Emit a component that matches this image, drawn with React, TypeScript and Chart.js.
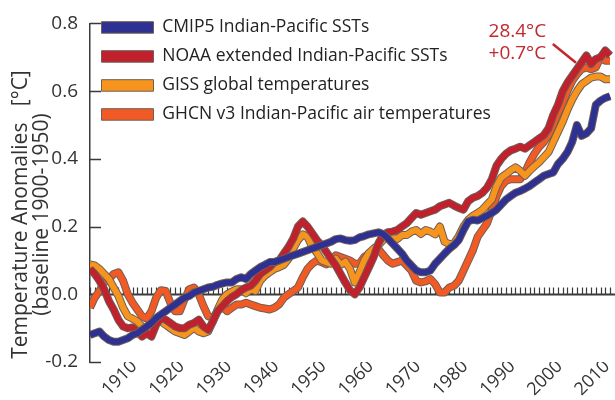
import React, { useEffect, useRef } from 'react';
import { Chart, registerables } from 'chart.js';

Chart.register(...registerables);

// ---------- data (annual anomalies, 1900-2010) ----------
const firstYear = 1900;

const cmip5 = [
  -0.12, -0.115, -0.11, -0.125, -0.135, -0.14, -0.14, -0.135, -0.13, -0.12,
  -0.115, -0.105, -0.095, -0.085, -0.07, -0.06, -0.05, -0.04, -0.03, -0.02,
  -0.01, -0.005, 0.005, 0.01, 0.015, 0.02, 0.022, 0.028, 0.032, 0.035,
  0.035, 0.045, 0.05, 0.045, 0.06, 0.07, 0.08, 0.087, 0.095, 0.095,
  0.1, 0.105, 0.11, 0.115, 0.12, 0.125, 0.13, 0.135, 0.14, 0.145,
  0.15, 0.155, 0.163, 0.165, 0.16, 0.158, 0.16, 0.168, 0.172, 0.177,
  0.18, 0.183, 0.178, 0.165, 0.15, 0.135, 0.12, 0.1, 0.085, 0.07,
  0.065, 0.065, 0.07, 0.09, 0.105, 0.12, 0.134, 0.145, 0.16, 0.19,
  0.215, 0.22, 0.218, 0.225, 0.232, 0.24, 0.25, 0.265, 0.28, 0.29,
  0.3, 0.305, 0.312, 0.32, 0.33, 0.34, 0.35, 0.355, 0.36, 0.385,
  0.4, 0.42, 0.45, 0.5, 0.468, 0.475, 0.49, 0.56, 0.572, 0.58, 0.585,
];

const noaa = [
  0.075, 0.06, 0.04, 0.015, -0.02, -0.045, -0.075, -0.095, -0.1, -0.098,
  -0.11, -0.125, -0.115, -0.125, -0.09, -0.07, -0.075, -0.085, -0.095, -0.1,
  -0.1, -0.09, -0.085, -0.075, -0.095, -0.105, -0.08, -0.05, -0.035, -0.02,
  -0.008, 0.0, 0.012, 0.02, 0.025, 0.04, 0.06, 0.07, 0.08, 0.095,
  0.1, 0.12, 0.14, 0.165, 0.2, 0.215, 0.2, 0.18, 0.16, 0.145,
  0.125, 0.105, 0.085, 0.06, 0.035, 0.012, 0.0, 0.02, 0.05, 0.08,
  0.11, 0.15, 0.175, 0.183, 0.185, 0.19, 0.2, 0.21, 0.225, 0.24,
  0.235, 0.24, 0.245, 0.25, 0.26, 0.265, 0.27, 0.262, 0.255, 0.25,
  0.275, 0.285, 0.29, 0.3, 0.315, 0.34, 0.38, 0.4, 0.415, 0.425,
  0.43, 0.436, 0.43, 0.44, 0.45, 0.46, 0.47, 0.49, 0.53, 0.56,
  0.6, 0.625, 0.645, 0.665, 0.685, 0.705, 0.68, 0.695, 0.7, 0.72, 0.705,
];

const giss = [
  0.088, 0.085, 0.075, 0.06, 0.045, 0.02, -0.005, -0.04, -0.065, -0.072,
  -0.08, -0.095, -0.105, -0.085, -0.078, -0.08, -0.09, -0.1, -0.11, -0.115,
  -0.12, -0.11, -0.098, -0.11, -0.115, -0.11, -0.08, -0.045, -0.015, 0.0,
  0.008, 0.015, 0.015, 0.003, 0.015, 0.01, 0.04, 0.055, 0.065, 0.075,
  0.08, 0.087, 0.105, 0.135, 0.16, 0.177, 0.17, 0.14, 0.122, 0.1,
  0.095, 0.09, 0.105, 0.087, 0.096, 0.075, 0.035, 0.065, 0.1, 0.122,
  0.135, 0.145, 0.16, 0.17, 0.167, 0.163, 0.175, 0.175, 0.185, 0.19,
  0.178, 0.19, 0.185, 0.177, 0.2, 0.155, 0.148, 0.15, 0.172, 0.2,
  0.22, 0.232, 0.24, 0.25, 0.265, 0.28, 0.32, 0.345, 0.355, 0.366,
  0.375, 0.365, 0.35, 0.365, 0.378, 0.39, 0.405, 0.42, 0.45, 0.48,
  0.51, 0.545, 0.575, 0.6, 0.62, 0.63, 0.64, 0.643, 0.643, 0.635, 0.635,
];

const ghcn = [
  -0.04, -0.01, 0.01, 0.035, 0.045, 0.06, 0.065, 0.04, 0.0, -0.025,
  -0.045, -0.065, -0.072, -0.05, -0.01, 0.012, 0.01, -0.025, -0.05, -0.05,
  -0.015, 0.015, 0.02, 0.0, -0.035, -0.065, -0.07, -0.05, -0.035, -0.05,
  -0.04, -0.03, -0.03, -0.025, -0.03, -0.035, -0.04, -0.042, -0.045, -0.04,
  -0.03, -0.01, 0.0, 0.01, 0.02, 0.05, 0.075, 0.09, 0.1, 0.095,
  0.088, 0.1, 0.115, 0.11, 0.105, 0.1, 0.09, 0.09, 0.11, 0.12,
  0.13, 0.134, 0.116, 0.1, 0.09, 0.095, 0.1, 0.085, 0.07, 0.04,
  0.035, 0.038, 0.045, 0.03, 0.005, 0.005, 0.02, 0.025, 0.04, 0.07,
  0.1, 0.13, 0.17, 0.19, 0.21, 0.25, 0.29, 0.32, 0.335, 0.34,
  0.34, 0.34, 0.36, 0.39, 0.415, 0.435, 0.45, 0.47, 0.5, 0.535,
  0.565, 0.6, 0.63, 0.65, 0.665, 0.67, 0.665, 0.67, 0.7, 0.69, 0.69,
];

const seriesNames = [
  'CMIP5 Indian-Pacific SSTs',
  'NOAA extended Indian-Pacific SSTs',
  'GISS global temperatures',
  'GHCN v3 Indian-Pacific air temperatures',
];
const seriesColors = ['#2e3192', '#c1202d', '#f7941d', '#f15a24'];
const outlineColor = '#6e5f57';

const xTickYears = [1910, 1920, 1930, 1940, 1950, 1960, 1970, 1980, 1990, 2000, 2010];
const yTickValues = [-0.2, 0, 0.2, 0.4, 0.6, 0.8];
const yTitleLines = ['Temperature Anomalies   [°C]', '(baseline 1900-1950)'];

const annotationLines = ['28.4°C', '+0.7°C'];
const annotationYear = 1990.4;
const annotationValues = [0.777, 0.712];
const pointerFrom = { x: 1997.9, y: 0.739 };
const pointerTo = { x: 2002.8, y: 0.684 };
const annotationColor = '#c0282d';

const FONT = '"Open Sans", "Noto Sans", sans-serif';
const TEXT = '#333333';

const allSeries = [cmip5, noaa, giss, ghcn];
const years = cmip5.map((_, i) => firstYear + i);

const decorPlugin = {
  id: 'decor',
  beforeDatasetsDraw(chart: any) {
    const { ctx, chartArea, scales } = chart;
    const x = scales.x;
    const y = scales.y;
    const y0 = Math.round(y.getPixelForValue(0)) + 0.5;
    ctx.save();
    ctx.strokeStyle = '#3a3a3a';
    // zero line
    ctx.lineWidth = 2;
    ctx.beginPath();
    ctx.moveTo(chartArea.left, y0);
    ctx.lineTo(chartArea.right + 2, y0);
    ctx.stroke();
    // yearly tick marks on the zero line
    ctx.lineWidth = 1.2;
    ctx.beginPath();
    years.forEach((yr) => {
      const px = Math.round(x.getPixelForValue(yr)) + 0.5;
      ctx.moveTo(px, y0);
      ctx.lineTo(px, y0 - 7);
    });
    ctx.stroke();
    // inward y-axis ticks
    ctx.lineWidth = 1.5;
    ctx.beginPath();
    yTickValues.forEach((v) => {
      const py = Math.round(y.getPixelForValue(v)) + 0.5;
      ctx.moveTo(chartArea.left, py);
      ctx.lineTo(chartArea.left + 11, py);
    });
    ctx.stroke();
    ctx.restore();
  },
  afterDatasetsDraw(chart: any) {
    const { ctx, scales } = chart;
    const x = scales.x;
    const y = scales.y;
    ctx.save();
    ctx.fillStyle = annotationColor;
    ctx.font = `19px ${FONT}`;
    ctx.textAlign = 'center';
    ctx.textBaseline = 'middle';
    const ax = x.getPixelForValue(annotationYear);
    annotationLines.forEach((t, i) => {
      ctx.fillText(t, ax, y.getPixelForValue(annotationValues[i]));
    });
    ctx.strokeStyle = annotationColor;
    ctx.lineWidth = 2.5;
    ctx.beginPath();
    ctx.moveTo(x.getPixelForValue(pointerFrom.x), y.getPixelForValue(pointerFrom.y));
    ctx.lineTo(x.getPixelForValue(pointerTo.x), y.getPixelForValue(pointerTo.y));
    ctx.stroke();
    ctx.restore();
  },
};

export default function App() {
  const canvasRef = useRef<HTMLCanvasElement | null>(null);

  useEffect(() => {
    document.body.style.margin = '0';
    const canvas = canvasRef.current;
    if (!canvas) return;

    const datasets: any[] = [];
    allSeries.forEach((vals, s) => {
      const pts = vals.map((v, i) => ({ x: years[i], y: v }));
      datasets.push({
        label: seriesNames[s],
        data: pts,
        borderColor: seriesColors[s],
        backgroundColor: seriesColors[s],
        borderWidth: 6,
        pointRadius: 0,
        pointHoverRadius: 0,
        tension: 0,
        fill: false,
        borderJoinStyle: 'round',
        order: s * 2,
      });
      datasets.push({
        label: seriesNames[s] + ' outline',
        data: pts,
        borderColor: outlineColor,
        backgroundColor: outlineColor,
        borderWidth: 8,
        pointRadius: 0,
        pointHoverRadius: 0,
        tension: 0,
        fill: false,
        borderJoinStyle: 'round',
        order: s * 2 + 1,
      });
    });

    const chart = new Chart(canvas, {
      type: 'line',
      data: { datasets },
      plugins: [decorPlugin],
      options: {
        animation: false,
        responsive: true,
        maintainAspectRatio: false,
        events: [],
        layout: { padding: { top: 17, left: 0, right: 2, bottom: 0 } },
        plugins: {
          tooltip: { enabled: false },
          legend: {
            display: true,
            position: 'chartArea',
            align: 'start',
            title: {
              display: true,
              text: ' ',
              font: { size: 6, family: FONT, lineHeight: 1.2 },
              padding: 0,
            },
            labels: {
              boxWidth: 52,
              boxHeight: 11.5,
              padding: 11.5,
              color: '#222222',
              font: { size: 17.5, family: FONT },
              generateLabels: () =>
                seriesNames.map((name, i) => ({
                  text: name,
                  fillStyle: seriesColors[i],
                  strokeStyle: outlineColor,
                  lineWidth: 1,
                  hidden: false,
                  datasetIndex: i * 2,
                  fontColor: '#222222',
                })),
            },
          },
        },
        scales: {
          x: {
            type: 'linear',
            min: firstYear,
            max: 2010.63,
            grid: { display: false, drawTicks: false },
            border: { display: false },
            afterBuildTicks: (scale: any) => {
              scale.ticks = xTickYears.map((v) => ({ value: v }));
            },
            afterFit: (scale: any) => {
              scale.height = 38;
              scale.paddingLeft = 0;
              scale.paddingRight = 0;
            },
            ticks: {
              autoSkip: false,
              minRotation: 45,
              maxRotation: 45,
              padding: -6,
              labelOffset: -3,
              color: TEXT,
              font: { size: 18, family: FONT },
              callback: (v: any) => String(v),
            },
          },
          y: {
            type: 'linear',
            min: -0.2,
            max: 0.8,
            grid: { display: false, drawTicks: false },
            border: { display: true, color: '#3a3a3a', width: 1.5 },
            afterBuildTicks: (scale: any) => {
              scale.ticks = yTickValues.map((v) => ({ value: v }));
            },
            afterFit: (scale: any) => {
              scale.width = 90;
            },
            ticks: {
              padding: 12,
              color: TEXT,
              font: { size: 19, family: FONT },
              callback: (v: any) => Number(v).toFixed(1),
            },
            title: {
              display: true,
              text: yTitleLines.map((t) => t + '        '),
              color: TEXT,
              font: { size: 21, family: FONT, lineHeight: 1.0 },
              padding: { top: 10.5, bottom: 0 },
            },
          },
        },
      },
    });

    return () => {
      chart.destroy();
    };
  }, []);

  return (
    <div style={{ position: 'relative', width: 615, height: 400, background: '#ffffff' }}>
      <canvas ref={canvasRef} />
    </div>
  );
}
